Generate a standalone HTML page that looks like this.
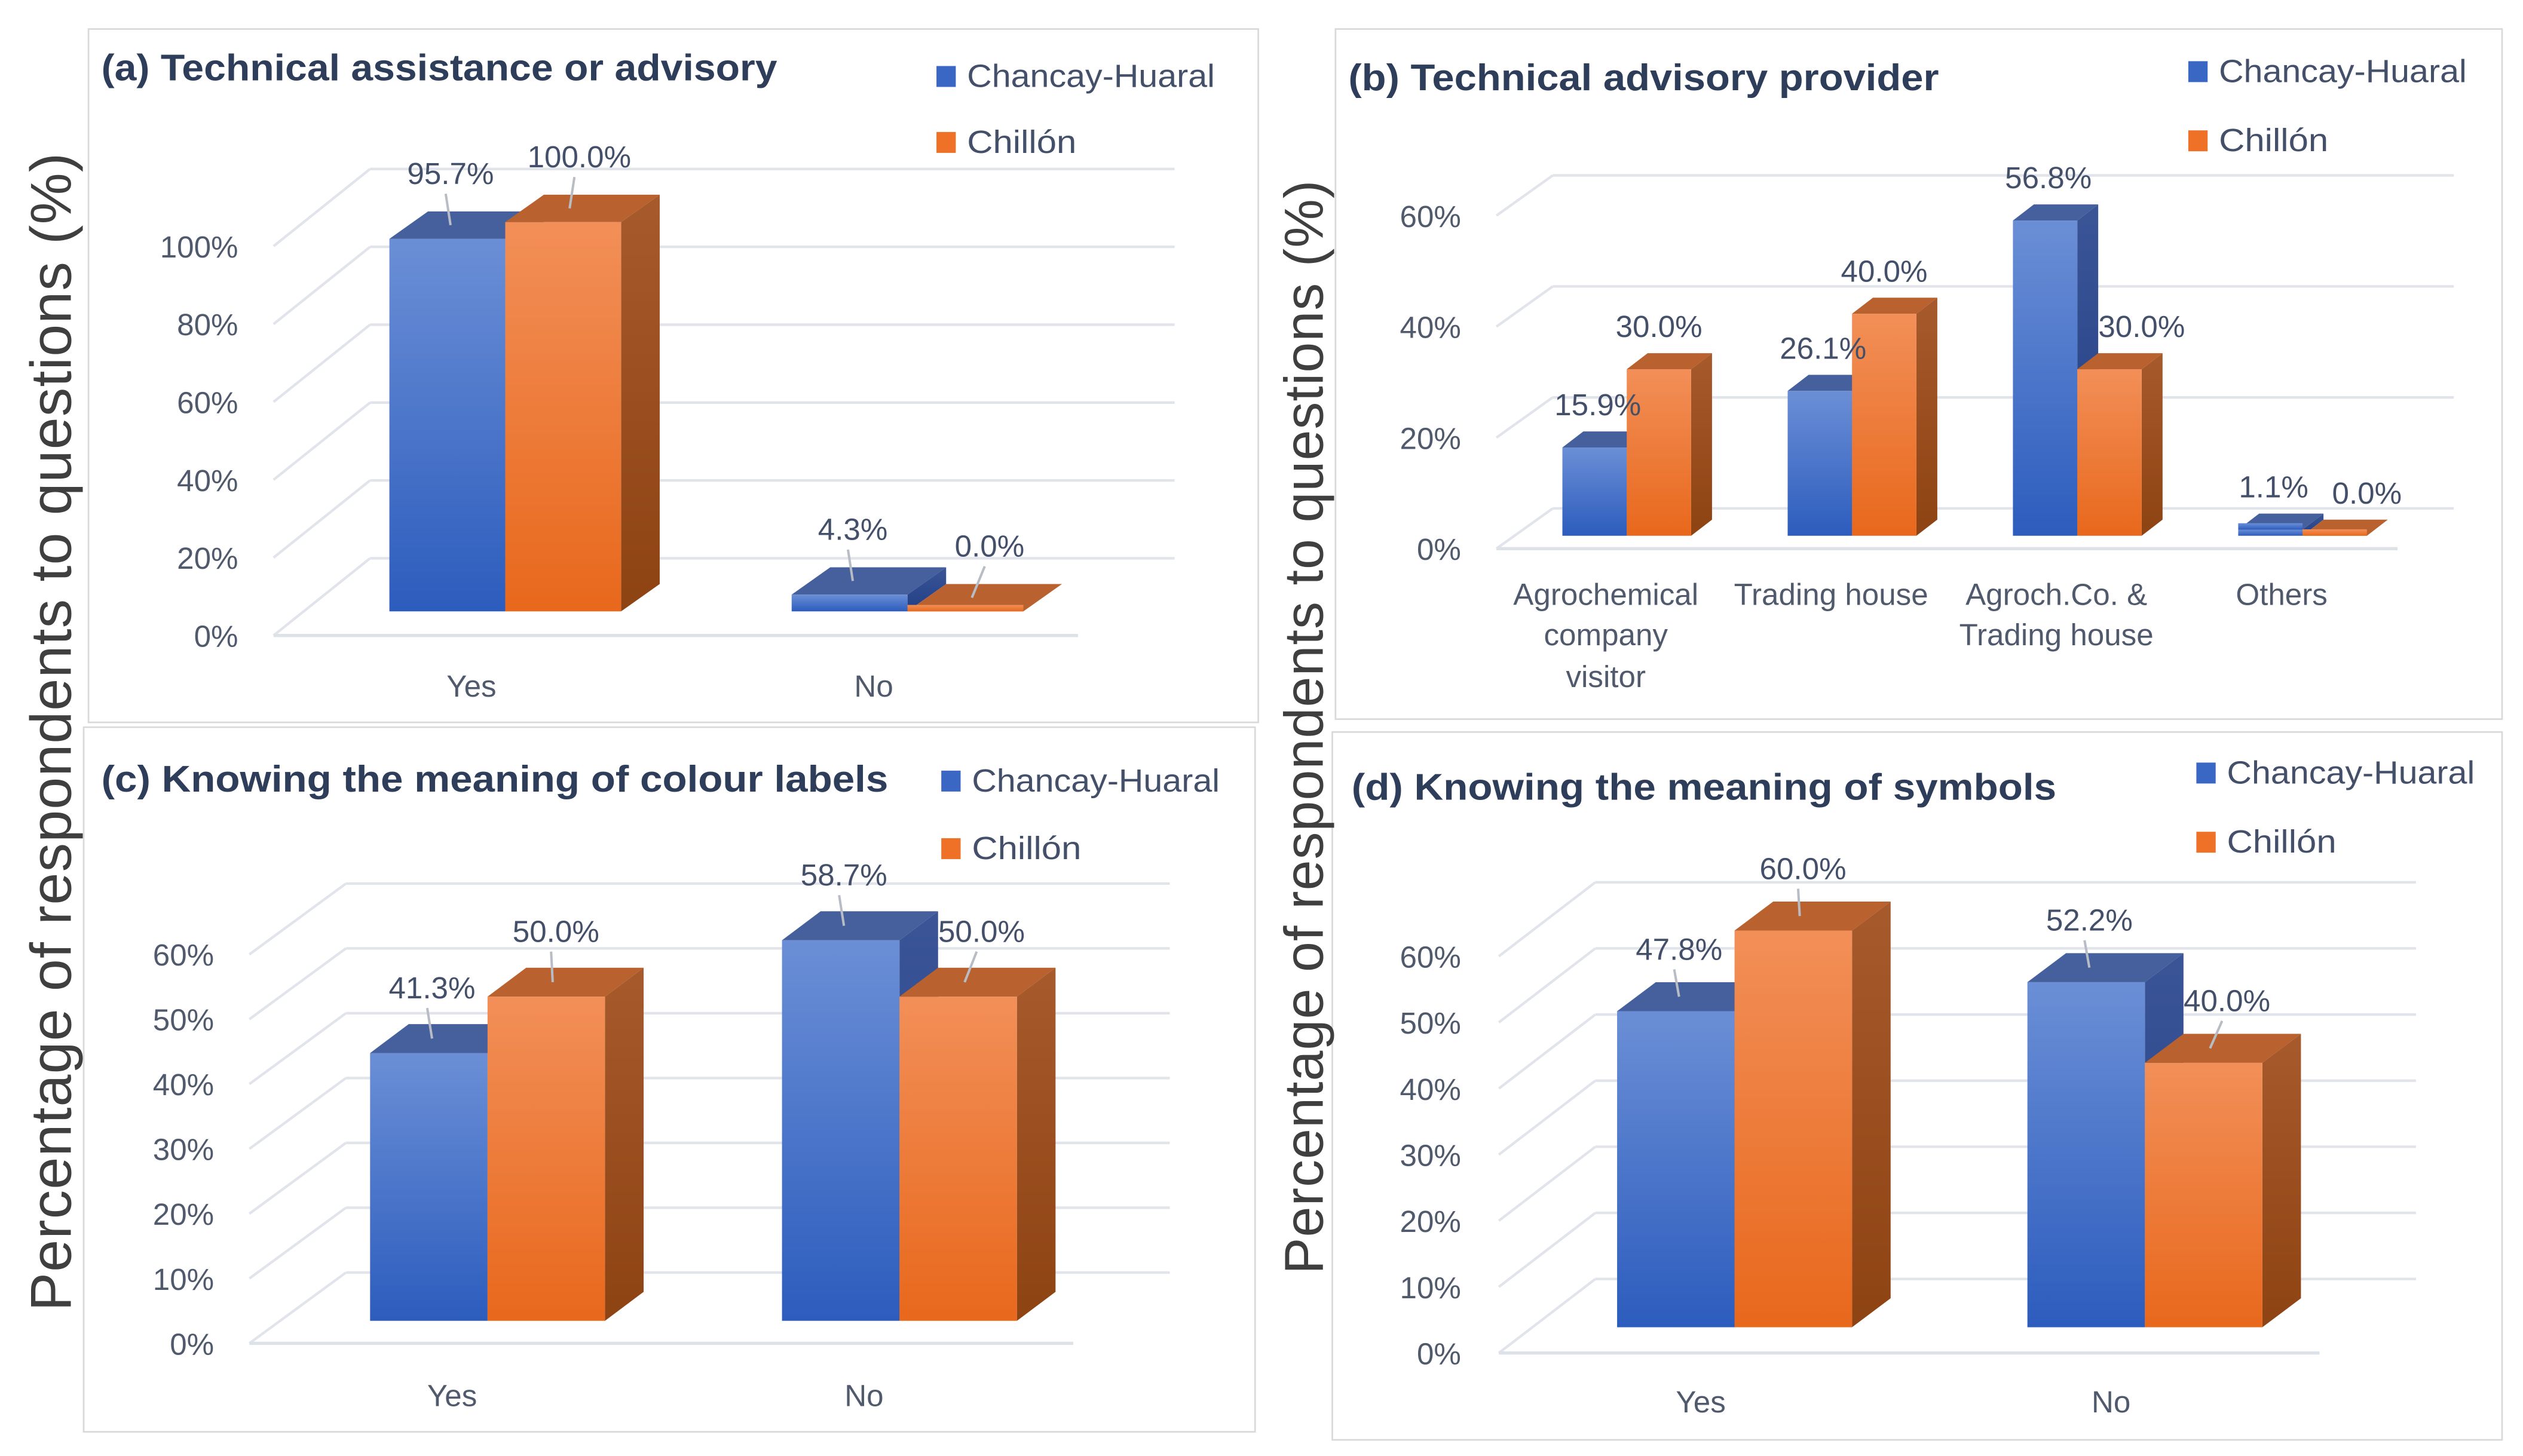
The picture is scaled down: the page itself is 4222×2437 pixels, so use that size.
<!DOCTYPE html>
<html><head><meta charset="utf-8">
<style>
html,body{margin:0;padding:0;background:#fff;}
svg{display:block;}
text{font-family:"Liberation Sans",sans-serif;}
</style></head>
<body>
<svg id="chart" xmlns="http://www.w3.org/2000/svg" width="4222" height="2437" viewBox="0 0 1568 905">
<defs>
<linearGradient id="bf" x1="0" y1="0" x2="0" y2="1"><stop offset="0" stop-color="#6b8fd6"/><stop offset="1" stop-color="#2c5cbd"/></linearGradient>
<linearGradient id="of" x1="0" y1="0" x2="0" y2="1"><stop offset="0" stop-color="#f28f58"/><stop offset="1" stop-color="#e8681c"/></linearGradient>
<linearGradient id="bs" x1="0" y1="0" x2="0" y2="1"><stop offset="0" stop-color="#3b5597"/><stop offset="1" stop-color="#213f85"/></linearGradient>
<linearGradient id="os" x1="0" y1="0" x2="0" y2="1"><stop offset="0" stop-color="#a75a2c"/><stop offset="1" stop-color="#8e4313"/></linearGradient>
</defs>
<rect x="0" y="0" width="1568" height="905" fill="#fff"/>
<g id="root"></g>
<text transform="translate(44,815) rotate(-90)" font-size="36" fill="#3f3f3f" textLength="720" lengthAdjust="spacing">Percentage  of  respondents  to  questions  (%)</text>
<text transform="translate(822,792) rotate(-90)" font-size="34" fill="#3f3f3f" textLength="680" lengthAdjust="spacing">Percentage  of  respondents  to  questions  (%)</text>
</svg>
<script>
// Panel (a)
const catsA = [["Yes"], ["No"]];
const chancayA = [95.7, 4.3];
const chillonA = [100.0, 0.0];
const ticksA = [0, 20, 40, 60, 80, 100];
// Panel (b)
const catsB = [["Agrochemical","company","visitor"], ["Trading house"], ["Agroch.Co. &","Trading house"], ["Others"]];
const chancayB = [15.9, 26.1, 56.8, 1.1];
const chillonB = [30.0, 40.0, 30.0, 0.0];
const ticksB = [0, 20, 40, 60];
// Panel (c)
const catsC = [["Yes"], ["No"]];
const chancayC = [41.3, 58.7];
const chillonC = [50.0, 50.0];
const ticksC = [0, 10, 20, 30, 40, 50, 60];
// Panel (d)
const catsD = [["Yes"], ["No"]];
const chancayD = [47.8, 52.2];
const chillonD = [60.0, 40.0];
const ticksD = [0, 10, 20, 30, 40, 50, 60];

const NS = "http://www.w3.org/2000/svg";
const root = document.getElementById('root');
function mk(tag, attrs, parent) {
  const e = document.createElementNS(NS, tag);
  for (const k in attrs) e.setAttribute(k, attrs[k]);
  (parent || root).appendChild(e);
  return e;
}

const panels = [
  {id:'a', title:'(a) Technical assistance or advisory', cats:catsA, s1:chancayA, s2:chillonA, ticks:ticksA,
   box:[55,18,727,431], tx:63, ty:50, tl:420, lx:582, ly:[41,82], x0:170, x1:670, yF:395, scale:2.42,
   bdx:19, bdy:-15, bw:72, sdx:24, sdy:-17, wdx:60, wdy:-48, tickX:148, labY:[433], labOff:34, o2:10, leader:true},
  {id:'b', title:'(b) Technical advisory provider', cats:catsB, s1:chancayB, s2:chillonB, ticks:ticksB,
   box:[830,18,725,429], tx:838, ty:56, tl:367, lx:1360, ly:[38,81], x0:930, x1:1490, yF:341, scale:3.45,
   bdx:11, bdy:-8, bw:40, sdx:13, sdy:-10, wdx:35, wdy:-25, tickX:908, labY:[376,401,427], labOff:20, o2:0, leader:false},
  {id:'c', title:'(c) Knowing the meaning of colour labels', cats:catsC, s1:chancayC, s2:chillonC, ticks:ticksC,
   box:[52,452,728,438], tx:63, ty:492, tl:489, lx:585, ly:[479,521], x0:155, x1:667, yF:835, scale:4.03,
   bdx:20, bdy:-14, bw:73, sdx:24, sdy:-18, wdx:60, wdy:-44, tickX:133, labY:[874], labOff:34, o2:6, leader:true},
  {id:'d', title:'(d) Knowing the meaning of symbols', cats:catsD, s1:chancayD, s2:chillonD, ticks:ticksD,
   box:[828,455,727,440], tx:840, ty:497, tl:438, lx:1365, ly:[474,517], x0:931.5, x1:1441.5, yF:841, scale:4.11,
   bdx:19, bdy:-16, bw:73, sdx:24, sdy:-18, wdx:60, wdy:-46, tickX:908, labY:[878], labOff:32, o2:6, leader:true}
];

function drawBar(g, P, x, v, front, side, top, name) {
  const yB = P.yF + P.bdy;
  const h = v * P.scale;
  const yT = yB - h;
  const el1 = mk('polygon', {points:`${x+P.bw},${yB} ${x+P.bw+P.sdx},${yB+P.sdy} ${x+P.bw+P.sdx},${yT+P.sdy} ${x+P.bw},${yT}`, fill:side}, g);
  
  
  const el2 = mk('rect', {x:x, y:yT, width:P.bw, height:Math.max(h,0.01), fill:front}, g);
  
  
  const el3 = mk('polygon', {points:`${x},${yT} ${x+P.sdx},${yT+P.sdy} ${x+P.bw+P.sdx},${yT+P.sdy} ${x+P.bw},${yT}`, fill:top}, g);
  
  
  if (v === 0 || h < 6) {
    const el4 = mk('rect', {x:x, y:yT-4, width:P.bw, height:4, fill:front}, g);
    
    
  }
  return yT;
}

panels.forEach(P => {
  const g = mk('g', {});
  
  
  const fr = mk('rect', {x:P.box[0], y:P.box[1], width:P.box[2], height:P.box[3], fill:'#fff', stroke:'#d9d9d9', 'stroke-width':1}, g);
  
  
  const ttl = mk('text', {x:P.tx, y:P.ty, 'font-size':23, 'font-weight':'bold', fill:'#2e3d5a', textLength:P.tl, lengthAdjust:'spacingAndGlyphs'}, g);
  ttl.textContent = P.title;
  
  
  const legs = [['Chancay-Huaral','#3a66c4'],['Chillón','#ee7127']];
  legs.forEach((L,i) => {
    const sq = mk('rect', {x:P.lx, y:P.ly[i], width:12, height:13, fill:L[1]}, g);
    
    
    const t = mk('text', {x:P.lx+19, y:P.ly[i]+13, 'font-size':20, fill:'#44506a', textLength: i===0?154:68, lengthAdjust:'spacingAndGlyphs'}, g);
    t.textContent = L[0];
    
    
  });
  const y = v => P.yF - v * P.scale;
  P.ticks.forEach(v => {
    const gl = mk('line', {x1:P.x0+P.wdx, y1:y(v)+P.wdy, x2:P.x1+P.wdx, y2:y(v)+P.wdy, stroke:'#e1e4ea', 'stroke-width':1.6}, g);
    
    
    const dl = mk('line', {x1:P.x0, y1:y(v), x2:P.x0+P.wdx, y2:y(v)+P.wdy, stroke:'#e1e4ea', 'stroke-width':1.6}, g);
    
    
    const tl = mk('text', {x:P.tickX, y:y(v)+7, 'font-size':19, fill:'#505a6c', 'text-anchor':'end'}, g);
    tl.textContent = v + '%';
    
    
  });
  const fl = mk('line', {x1:P.x0, y1:P.yF, x2:P.x1, y2:P.yF, stroke:'#dde1e8', 'stroke-width':2}, g);
  
  
  const cw = (P.x1 - P.x0) / P.cats.length;
  const labels = [];
  P.cats.forEach((c, i) => {
    const cx = P.x0 + cw * (i + 0.5);
    const xb = cx - P.bw + P.bdx;
    const t1 = drawBar(g, P, xb, P.s1[i], 'url(#bf)', 'url(#bs)', '#45609c', 'bar-chancay-' + i);
    const t2 = drawBar(g, P, xb + P.bw, P.s2[i], 'url(#of)', 'url(#os)', '#b9622f', 'bar-chillon-' + i);
    labels.push([t1, xb + P.bw/2 + 2, P.s1[i], xb + P.bw/2 + 2]);
    let lx2 = xb + P.bw*1.5 + P.o2;
    if (P.s1[i] > P.s2[i]) lx2 = Math.max(lx2, xb + P.bw + P.sdx + 27);
    labels.push([t2, lx2, P.s2[i], xb + P.bw*1.5 + 4]);
    c.forEach((line, j) => {
      const ct = mk('text', {x:cx - 2, y:P.labY[j], 'font-size':19, fill:'#505a6c', 'text-anchor':'middle'}, g);
      ct.textContent = line;
      
      
    });
  });
  labels.forEach(d => {
    const lx = d[1];
    if (P.leader) {
      const ll = mk('line', {x1:lx-3, y1:d[0]-P.labOff+6, x2:d[3], y2:d[0]+P.sdy/2, stroke:'#b8bcc4', 'stroke-width':1.5}, g);
      
      
    }
    const bg = mk('text', {x:lx, y:d[0] - P.labOff, 'font-size':19, fill:'#44506a', 'text-anchor':'middle'}, g);
    bg.textContent = d[2].toFixed(1) + '%';
    
    
  });
});
</script>
</body></html>
